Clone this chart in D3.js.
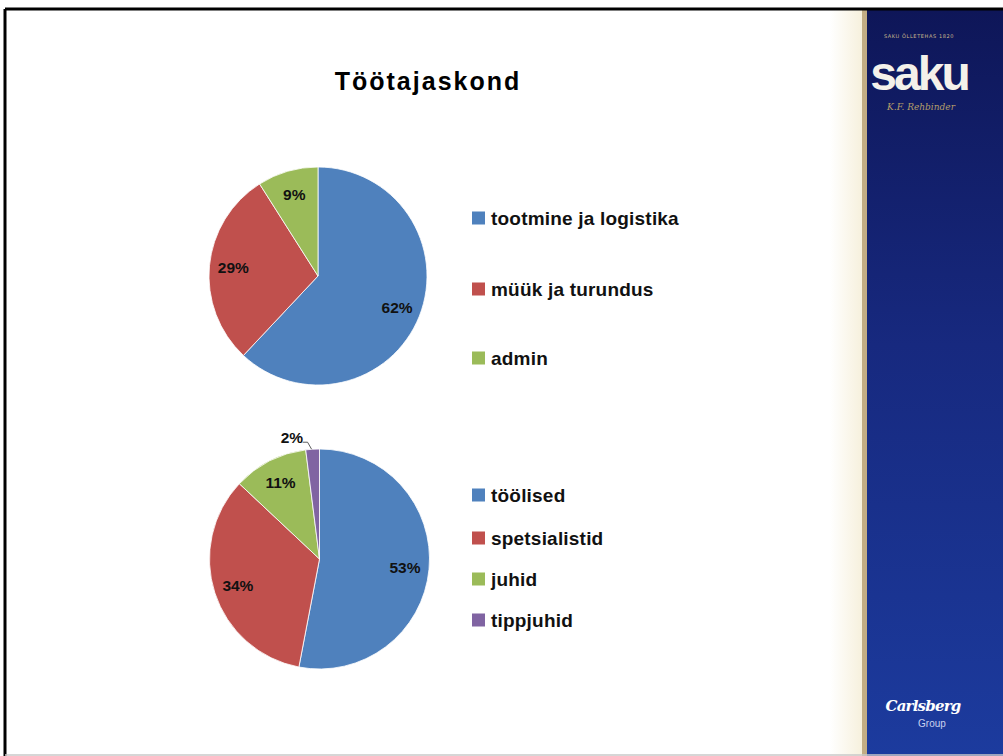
<!DOCTYPE html>
<html>
<head>
<meta charset="utf-8">
<script src="https://cdn.jsdelivr.net/npm/d3@7"></script>
<style>
  body { margin: 0; background: #fff; }
  svg { display: block; }
</style>
</head>
<body>
<svg id="slide" width="1003" height="756"></svg>
<script>
// data
var chartTitle = "Töötajaskond"

var deptNames = ["tootmine ja logistika", "müük ja turundus", "admin"]
var deptValues = [62, 29, 9]

var levelNames = ["töölised", "spetsialistid", "juhid", "tippjuhid"]
var levelValues = [53, 34, 11, 2]

var sliceColors = ["#4F81BD", "#C0504D", "#9BBB59", "#8064A2"]

var svg = d3.select("#slide")
var defs = svg.append("defs")

// right side band
var cream = defs.append("linearGradient").attr("id", "cream")
cream.append("stop").attr("offset", "0%").attr("stop-color", "#ffffff")
cream.append("stop").attr("offset", "100%").attr("stop-color", "#f6f0dc")

var navy = defs.append("linearGradient").attr("id", "navy")
    .attr("x1", 0).attr("y1", 0).attr("x2", 0).attr("y2", 1)
navy.append("stop").attr("offset", "0%").attr("stop-color", "#0e1658")
navy.append("stop").attr("offset", "45%").attr("stop-color", "#17297f")
navy.append("stop").attr("offset", "100%").attr("stop-color", "#1c3b9e")

svg.append("rect").attr("x", 830).attr("y", 9).attr("width", 33).attr("height", 747).attr("fill", "url(#cream)")
svg.append("rect").attr("x", 862).attr("y", 9).attr("width", 5).attr("height", 747).attr("fill", "#c2ad84")
svg.append("rect").attr("x", 867).attr("y", 9).attr("width", 136).attr("height", 747).attr("fill", "url(#navy)")

// saku logo
svg.append("text").attr("x", 919).attr("y", 38)
    .attr("text-anchor", "middle")
    .style("font-family", "DejaVu Sans").style("font-size", "5px")
    .style("fill", "#c9b88e").style("letter-spacing", "0.6px")
    .text("SAKU ÕLLETEHAS 1820")
svg.append("text").attr("x", 919).attr("y", 90)
    .attr("text-anchor", "middle")
    .style("font-family", "Liberation Sans, Arial, sans-serif")
    .style("font-weight", "bold").style("font-size", "48px")
    .style("fill", "#f4f1ea").style("letter-spacing", "-3px")
    .text("saku")
svg.append("text").attr("x", 921).attr("y", 110)
    .attr("text-anchor", "middle")
    .style("font-family", "DejaVu Serif").style("font-style", "italic").style("font-size", "9px")
    .style("fill", "#b59e6a")
    .text("K.F. Rehbinder")

// carlsberg logo
svg.append("text").attr("x", 923).attr("y", 711)
    .attr("text-anchor", "middle")
    .style("font-family", "DejaVu Serif").style("font-style", "italic").style("font-weight", "bold")
    .style("font-size", "15px").style("fill", "#ffffff").style("letter-spacing", "-0.8px")
    .text("Carlsberg")
svg.append("text").attr("x", 932).attr("y", 727)
    .attr("text-anchor", "middle")
    .style("font-family", "Liberation Sans, sans-serif")
    .style("font-size", "10px").style("fill", "#c9d2ef")
    .text("Group")

// slide frame
svg.append("line").attr("x1", 5).attr("y1", 9).attr("x2", 1003).attr("y2", 9)
    .attr("stroke", "#000").attr("stroke-width", 3)
svg.append("line").attr("x1", 5).attr("y1", 9).attr("x2", 5).attr("y2", 756)
    .attr("stroke", "#000").attr("stroke-width", 3)
svg.append("line").attr("x1", 5).attr("y1", 755).attr("x2", 1003).attr("y2", 755)
    .attr("stroke", "#c8c8c8").attr("stroke-width", 1.5)

// title
svg.append("text").attr("x", 428).attr("y", 90)
    .attr("text-anchor", "middle")
    .style("font-family", "Liberation Sans, Arial, sans-serif")
    .style("font-weight", "bold").style("font-size", "25px")
    .style("letter-spacing", "2px")
    .text(chartTitle)

var pie = d3.pie().sort(null).value(function(d) { return d })

function drawPie(values, cx, cy, r) {
    var g = svg.append("g").attr("transform", "translate(" + cx + "," + cy + ")")
    var arc = d3.arc().innerRadius(0).outerRadius(r)
    var labelArc = d3.arc().innerRadius(r * 0.78).outerRadius(r * 0.78)
    var slices = pie(values)

    g.selectAll("path")
        .data(slices)
        .enter()
        .append("path")
        .attr("d", arc)
        .attr("fill", function(d, i) { return sliceColors[i] })
        .attr("stroke", "#fff")
        .attr("stroke-width", 0.8)

    g.selectAll("text")
        .data(slices)
        .enter()
        .append("text")
        .attr("transform", function(d) {
            var p = labelArc.centroid(d)
            // small slices go outside with a leader line
            if (d.data < 5) {
                var a = (d.startAngle + d.endAngle) / 2
                p = [Math.sin(a) * (r + 12) - 20, -Math.cos(a) * (r + 12)]
            }
            return "translate(" + p[0] + "," + p[1] + ")"
        })
        .attr("text-anchor", "middle")
        .attr("dy", "0.35em")
        .style("font-family", "Liberation Sans, Arial, sans-serif")
        .style("font-weight", "bold")
        .style("font-size", "15.5px")
        .style("fill", "#111")
        .text(function(d) { return d.data + "%" })

    slices.forEach(function(d) {
        if (d.data < 5) {
            var a = (d.startAngle + d.endAngle) / 2
            var edge = [Math.sin(a) * r, -Math.cos(a) * r]
            g.append("path")
                .attr("d", d3.line()([[edge[0] - 1, edge[1]], [edge[0] - 5, edge[1] - 7], [edge[0] - 10, edge[1] - 7]]))
                .attr("fill", "none")
                .attr("stroke", "#333")
                .attr("stroke-width", 0.8)
        }
    })
}

function drawLegend(names, x, rowYs) {
    var g = svg.append("g")
    var item = g.selectAll("g")
        .data(names)
        .enter()
        .append("g")
        .attr("transform", function(d, i) { return "translate(" + x + "," + rowYs[i] + ")" })

    item.append("rect")
        .attr("x", 0).attr("y", -6.5)
        .attr("width", 13).attr("height", 13)
        .attr("fill", function(d, i) { return sliceColors[i] })

    item.append("text")
        .attr("x", 19)
        .attr("dy", "0.35em")
        .style("font-family", "Liberation Sans, Arial, sans-serif")
        .style("font-weight", "bold")
        .style("font-size", "19px")
        .style("letter-spacing", "0.2px")
        .style("fill", "#111")
        .text(function(d) { return d })
}

drawPie(deptValues, 318, 276, 109)
drawLegend(deptNames, 472, [218, 289, 358])

drawPie(levelValues, 319.5, 559, 110)
drawLegend(levelNames, 472, [495, 538, 579, 620])
</script>
</body>
</html>
